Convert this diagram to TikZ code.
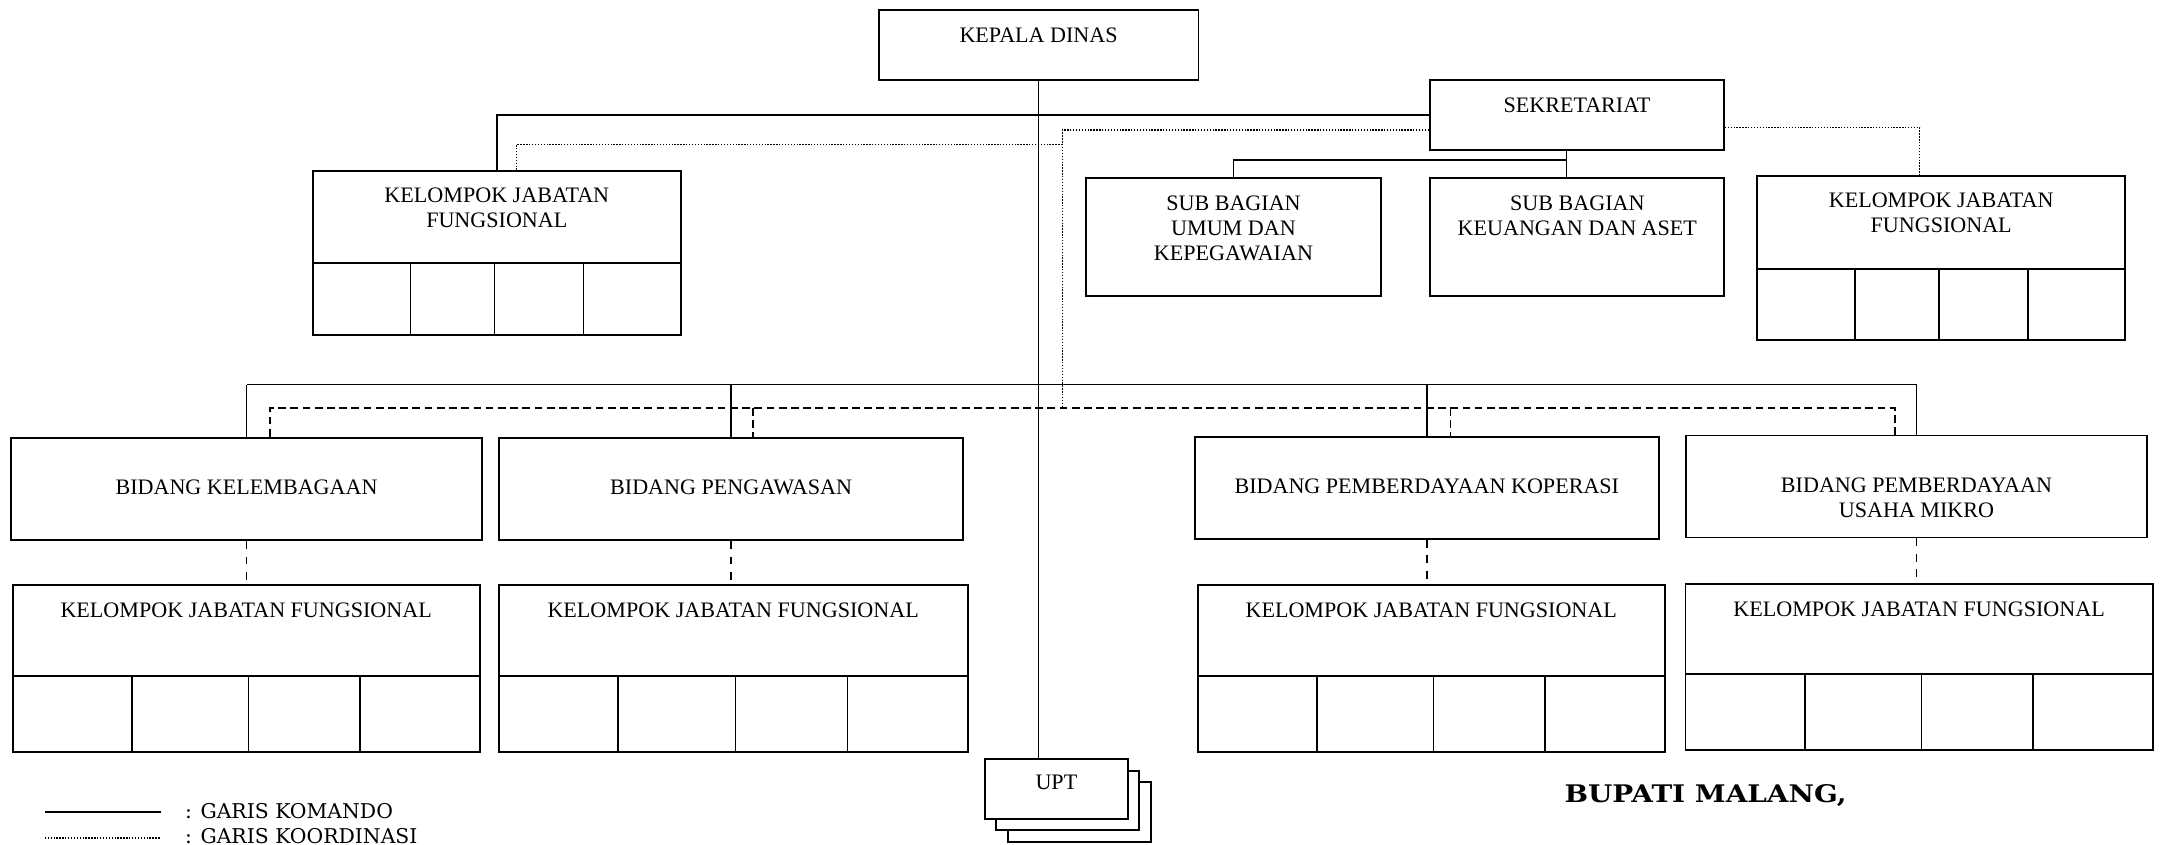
\documentclass[tikz,border=0pt]{standalone}
\usepackage{fontspec}
\setmainfont{Liberation Serif}
\newfontfamily\legfont{DejaVu Serif}
\newfontfamily\signfont[FakeStretch=1.15]{DejaVu Serif}
\usetikzlibrary{positioning,calc}

\begin{document}
\begin{tikzpicture}[
  x=0.025cm, y=-0.025cm,
  every node/.style={font=\fontsize{11.4}{12.9}\selectfont},
  box/.style={
    rectangle, draw=black, line width=1pt,
    fill=white, inner sep=0pt
  },
  lbl/.style={inner sep=0pt, align=center},
  cmd/.style={draw=black, line width=0.85pt},
  koord/.style={draw=black, line width=0.8pt, dash pattern=on 0.7pt off 0.8pt},
  koordline/.style={draw=black, line width=0.85pt, dash pattern=on 4pt off 2.3pt},
  koordstep/.style={draw=black, line width=0.85pt, dash pattern=on 4pt off 4pt}
]
\useasboundingbox (0,0) rectangle (1568,613);

% Kepala dinas and sekretariat
\node[box, minimum width=5.8cm, minimum height=1.27cm] (kadis) at (753.6,32.6) {};
\node[lbl, below=0.333cm of kadis.north] (kadisT) {KEPALA DINAS};
\node[box, minimum width=5.33cm, minimum height=1.27cm] (sekr) at (1144.2,83.4) {};
\node[lbl, below=0.333cm of sekr.north] (sekrT) {SEKRETARIAT};

% Sub bagian
\node[box, minimum width=5.35cm, minimum height=2.15cm] (umum) at (895,172) {};
\node[lbl, below=0.333cm of umum.north] (umumT) {SUB BAGIAN\\UMUM DAN\\KEPEGAWAIAN};
\node[box, minimum width=5.33cm, minimum height=2.15cm] (keu) at (1144.5,172) {};
\node[lbl, below=0.333cm of keu.north] (keuT) {SUB BAGIAN\\KEUANGAN DAN ASET};

% Kelompok jabatan fungsional (top)
\node[box, minimum width=6.675cm, minimum height=1.675cm] (kjfTL) at (360.5,157.5) {};
\node[box, minimum width=6.675cm, minimum height=1.3cm] (cellsTL) at (360.5,217) {};
\node[lbl, below=0.318cm of kjfTL.north] (kjfTLT) {KELOMPOK JABATAN\\FUNGSIONAL};
\node[box, minimum width=6.675cm, minimum height=1.675cm] (kjfTR) at (1408.5,161.5) {};
\node[box, minimum width=6.675cm, minimum height=1.3cm] (cellsTR) at (1408.5,221) {};
\node[lbl, below=0.318cm of kjfTR.north] (kjfTRT) {KELOMPOK JABATAN\\FUNGSIONAL};

\foreach \n in {TL,TR}
  \foreach \f in {0.267,0.494,0.734}
    \draw[line width=0.9pt] ($(cells\n.north west)!\f!(cells\n.north east)$) -- ($(cells\n.south west)!\f!(cells\n.south east)$);

% Bidang
\node[box, minimum width=8.53cm, minimum height=1.86cm] (bidA) at (178.9,354.75) {};
\node[lbl, below=0.77cm of bidA.north] (bidAT) {BIDANG KELEMBAGAAN};
\node[box, minimum width=8.425cm, minimum height=1.86cm] (bidB) at (530.5,354.75) {};
\node[lbl, below=0.77cm of bidB.north] (bidBT) {BIDANG PENGAWASAN};
\node[box, minimum width=8.415cm, minimum height=1.85cm] (bidC) at (1035.3,354) {};
\node[lbl, below=0.77cm of bidC.north] (bidCT) {BIDANG PEMBERDAYAAN KOPERASI};
\node[box, minimum width=8.35cm, minimum height=1.85cm] (bidD) at (1390.6,353) {};
\node[lbl, below=0.775cm of bidD.north] (bidDT) {BIDANG PEMBERDAYAAN\\USAHA MIKRO};

% Kelompok jabatan fungsional (bottom)
\node[box, minimum width=8.47cm, minimum height=1.645cm] (kjfA) at (178.65,457.4) {};
\node[box, minimum width=8.47cm, minimum height=1.38cm] (cellsA) at (178.65,517.9) {};
\node[box, minimum width=8.5cm, minimum height=1.645cm] (kjfB) at (532,457.4) {};
\node[box, minimum width=8.5cm, minimum height=1.38cm] (cellsB) at (532,517.9) {};
\node[box, minimum width=8.475cm, minimum height=1.645cm] (kjfC) at (1038.5,457.4) {};
\node[box, minimum width=8.475cm, minimum height=1.38cm] (cellsC) at (1038.5,517.9) {};
\node[box, minimum width=8.475cm, minimum height=1.645cm] (kjfD) at (1392.5,456.4) {};
\node[box, minimum width=8.475cm, minimum height=1.38cm] (cellsD) at (1392.5,516.9) {};

\foreach \n in {A,B,C,D} {
  \node[lbl, below=0.333cm of kjf\n.north] (kjf\n T) {KELOMPOK JABATAN FUNGSIONAL};
  \foreach \f in {0.256,0.505,0.743}
    \draw[line width=0.9pt] ($(cells\n.north west)!\f!(cells\n.north east)$) -- ($(cells\n.south west)!\f!(cells\n.south east)$);
}

% UPT (stacked)
\node[box, minimum width=2.59cm, minimum height=1.083cm] (upt3) at (783,589.2) {};
\node[box, minimum width=2.59cm, minimum height=1.083cm] (upt2) at (774.7,580.9) {};
\node[box, minimum width=2.59cm, minimum height=1.083cm] (upt) at (766.5,572.7) {};
\node[lbl, below=0.3cm of upt.north] (uptT) {UPT};

% Garis komando
\coordinate (brow) at (0,279);
\coordinate (sekrS) at ([xshift=-0.19cm]sekr.south);
\draw[cmd] (kadis.south) -- (kadis.south |- upt.north);
\draw[cmd] (sekr.west) -| (kjfTL.north);
\draw[cmd] (sekrS) -- (sekrS |- keu.north);
\draw[cmd] ([yshift=-0.17cm]sekrS) -| (umum.north);
\draw[cmd] (bidA.north |- brow) -- (bidD.north |- brow);
\foreach \n in {A,B,C,D}
  \draw[cmd] (bid\n.north |- brow) -- (bid\n.north);

% Garis koordinasi
\coordinate (crow) at (0,296);
\coordinate (koordX) at (770.9,0);
\coordinate (lowrow) at (0,104.8);
\coordinate (cA) at ([xshift=0.43cm]bidA.north);
\coordinate (cB) at ([xshift=0.40cm]bidB.north);
\coordinate (cC) at ([xshift=0.43cm]bidC.north);
\coordinate (cD) at ([xshift=-0.39cm]bidD.north);
\draw[koordline] (cA) -- (cA |- crow) -- (cD |- crow) -- (cD);
\foreach \n in {B,C}
  \draw[koordline] (c\n |- crow) -- (c\n);
\draw[koord] ([yshift=-0.27cm]sekr.west) -| (koordX |- crow);
\draw[koord] (koordX |- lowrow) -| ([xshift=0.36cm]kjfTL.north);
\draw[koord] ([yshift=-0.23cm]sekr.east) -| ([xshift=-0.39cm]kjfTR.north);
\foreach \n in {A,B,C,D}
  \draw[koordstep] (bid\n.south) -- (bid\n.south |- kjf\n.north);

% Legend
\coordinate (legK1) at (32.5,589);
\coordinate (legK2) at (116.6,589);
\coordinate (legD1) at (32.5,608);
\coordinate (legD2) at (116.6,608);
\draw[cmd, line width=1.1pt] (legK1) -- (legK2);
\draw[koord] (legD1) -- (legD2);
\node[anchor=base west, inner sep=0pt, font=\legfont\fontsize{10.5}{12}\selectfont] (legKom) at (134,594) {: GARIS KOMANDO};
\node[anchor=base west, inner sep=0pt, font=\legfont\fontsize{10.5}{12}\selectfont] (legKoo) at (134,612) {: GARIS KOORDINASI};

% Signature
\node[anchor=base west, inner sep=0pt, font=\signfont\bfseries\fontsize{12.5}{14}\selectfont] (bupati) at (1135,582) {BUPATI MALANG,};

\end{tikzpicture}
\end{document}
